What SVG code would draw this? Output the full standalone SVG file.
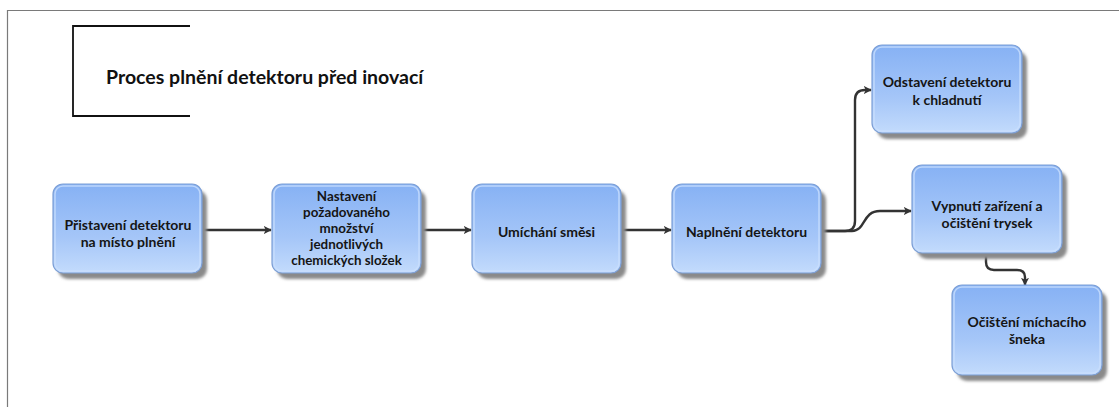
<svg xmlns="http://www.w3.org/2000/svg" width="1119" height="407" viewBox="0 0 1119 407">
<style>
.frame{fill:none;stroke:#7a7a7a;stroke-width:1.2}
.bracket{fill:none;stroke:#111;stroke-width:1.8}
.title{font-family:Lato,"Liberation Sans",sans-serif;font-weight:bold;font-size:19.5px;fill:#111}
.box{fill:url(#g);stroke:#7c9fd6;stroke-width:1.2}
.inner{fill:none;stroke:#c9defc;stroke-width:1.5;opacity:0.8}
.shadow{fill:#8a8a8a;filter:url(#blur)}
.lbl{font-family:Lato,"Liberation Sans",sans-serif;font-weight:bold;font-size:14px;fill:#151515;text-anchor:middle}
.sm{font-size:13.4px}
.edge{fill:none;stroke:#333;stroke-width:2.4;marker-end:url(#ah)}
</style>
<defs>
<linearGradient id="g" x1="0" y1="0" x2="0" y2="1">
<stop offset="0" stop-color="#86b1f4"/>
<stop offset="0.6" stop-color="#a5c6f8"/>
<stop offset="1" stop-color="#c3dbfc"/>
</linearGradient>
<filter id="blur" x="-10%" y="-10%" width="120%" height="130%"><feGaussianBlur stdDeviation="1.6"/></filter>
<marker id="ah" viewBox="0 0 10 10" refX="9" refY="5" markerWidth="8" markerHeight="8" markerUnits="userSpaceOnUse" orient="auto">
<path d="M0,0 L10,5 L0,10 L2.5,5 z" fill="#333"/>
</marker>
</defs>
<path class="frame" d="M7.5,407 L7.5,10.5 L1119,10.5"/>
<g id="title">
<path class="bracket" d="M190,26 L73,26 L73,116 L190,116"/>
<text class="title" x="106" y="84">Proces plnění detektoru před inovací</text>
</g>
<g id="connectors">
<path class="edge" d="M203,230 L271,230"/>
<path class="edge" d="M421,230 L471,230"/>
<path class="edge" d="M622,230 L671,230"/>
<path class="edge" d="M820,231 L845,231 Q855,231 855,221 L855,100 Q855,90 865,90 L871,90"/>
<path class="edge" d="M820,231 L852,231 C866,231 862,211 880,211 L911,211"/>
<path class="edge" d="M986,253 L986,262 Q986,270 994,270 L1017,270 Q1025,270 1025,277 L1025,285"/>
</g>
<g id="n1">
<rect class="shadow" x="58" y="190" width="149" height="89" rx="10"/>
<rect class="box" x="53" y="184" width="149" height="89" rx="10"/>
<rect class="inner" x="55" y="186" width="145" height="85" rx="8"/>
<text class="lbl" x="128" y="230">Přistavení detektoru</text>
<text class="lbl" x="128" y="247">na místo plnění</text>
</g>
<g id="n2">
<rect class="shadow" x="277" y="190" width="149" height="89" rx="10"/>
<rect class="box" x="272" y="184" width="149" height="89" rx="10"/>
<rect class="inner" x="274" y="186" width="145" height="85" rx="8"/>
<text class="lbl sm" x="346.5" y="201">Nastavení</text>
<text class="lbl sm" x="346.5" y="217">požadovaného</text>
<text class="lbl sm" x="346.5" y="233">množství</text>
<text class="lbl sm" x="346.5" y="249">jednotlivých</text>
<text class="lbl sm" x="346.5" y="265">chemických složek</text>
</g>
<g id="n3">
<rect class="shadow" x="477" y="190" width="149" height="89" rx="10"/>
<rect class="box" x="472" y="184" width="149" height="89" rx="10"/>
<rect class="inner" x="474" y="186" width="145" height="85" rx="8"/>
<text class="lbl" x="546.5" y="236.5">Umíchání směsi</text>
</g>
<g id="n4">
<rect class="shadow" x="677" y="190" width="149" height="89" rx="10"/>
<rect class="box" x="672" y="184" width="149" height="89" rx="10"/>
<rect class="inner" x="674" y="186" width="145" height="85" rx="8"/>
<text class="lbl" x="746.5" y="236.5">Naplnění detektoru</text>
</g>
<g id="n5">
<rect class="shadow" x="877" y="51" width="150" height="88" rx="10"/>
<rect class="box" x="872" y="45" width="150" height="88" rx="10"/>
<rect class="inner" x="874" y="47" width="146" height="84" rx="8"/>
<text class="lbl" x="947" y="87">Odstavení detektoru</text>
<text class="lbl" x="947" y="105">k chladnutí</text>
</g>
<g id="n6">
<rect class="shadow" x="917" y="171" width="150" height="88" rx="10"/>
<rect class="box" x="912" y="165" width="150" height="88" rx="10"/>
<rect class="inner" x="914" y="167" width="146" height="84" rx="8"/>
<text class="lbl" x="987" y="211">Vypnutí zařízení a</text>
<text class="lbl" x="987" y="228">očištění trysek</text>
</g>
<g id="n7">
<rect class="shadow" x="957" y="291" width="150" height="90" rx="10"/>
<rect class="box" x="952" y="285" width="150" height="90" rx="10"/>
<rect class="inner" x="954" y="287" width="146" height="86" rx="8"/>
<text class="lbl" x="1027" y="327">Očištění míchacího</text>
<text class="lbl" x="1027" y="344">šneka</text>
</g>
</svg>
